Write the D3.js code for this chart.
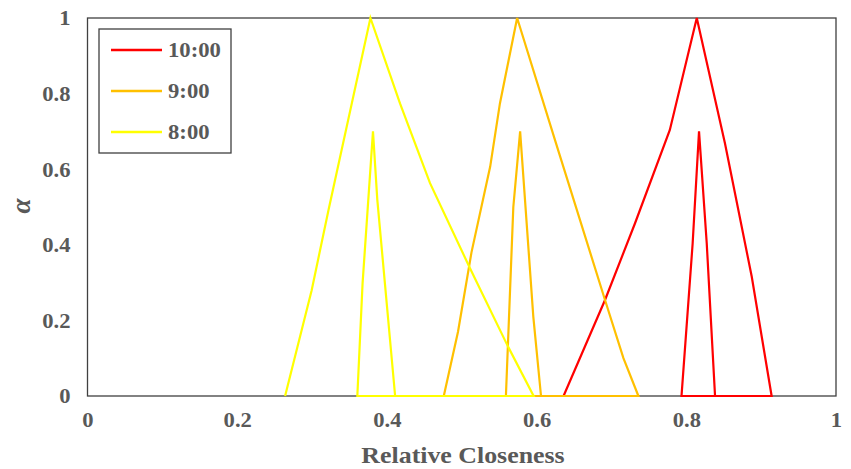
<!DOCTYPE html>
<html>
<head>
<meta charset="utf-8">
<script src="https://cdn.jsdelivr.net/npm/d3@7/dist/d3.min.js"></script>
<style>
  body { margin: 0; background: #fff; }
  svg text { font-family: "Times New Roman", "Liberation Serif", serif; font-weight: bold; fill: #595959; }
</style>
</head>
<body>
<svg id="chart" width="851" height="469"></svg>
<script>
// fuzzy relative closeness, [x, alpha] points
const seriesNames = ["10:00", "9:00", "8:00"];
const seriesColors = ["#ff0000", "#ffc000", "#ffff00"];

const redOuter = [[0.636, 0], [0.6914, 0.254], [0.7315, 0.457], [0.778, 0.704], [0.814, 1], [0.8517, 0.668], [0.8874, 0.316], [0.914, 0]];
const redInner = [[0.7936, 0], [0.8085, 0.404], [0.817, 0.7], [0.8273, 0.404], [0.8384, 0]];

const orangeOuter = [[0.476, 0], [0.495, 0.17], [0.513, 0.38], [0.538, 0.607], [0.551, 0.774], [0.574, 1], [0.6246, 0.677], [0.6914, 0.254], [0.716, 0.1], [0.736, 0]];
const orangeInner = [[0.559, 0], [0.5689, 0.5], [0.578, 0.7], [0.5956, 0.21], [0.6059, 0]];

const yellowOuter = [[0.264, 0], [0.2995, 0.28], [0.322, 0.492], [0.378, 1], [0.4175, 0.774], [0.4576, 0.563], [0.511, 0.338], [0.562, 0.13], [0.596, 0]];
const yellowInner = [[0.3605, 0], [0.3675, 0.298], [0.3814, 0.7], [0.3872, 0.519], [0.411, 0]];

const xTicks = [0, 0.2, 0.4, 0.6, 0.8, 1];
const xTickLabels = ["0", "0.2", "0.4", "0.6", "0.8", "1"];
const yTicks = [0, 0.2, 0.4, 0.6, 0.8, 1];
const yTickLabels = ["0", "0.2", "0.4", "0.6", "0.8", "1"];

const series = [
    redOuter.concat(redInner),
    orangeOuter.concat(orangeInner),
    yellowOuter.concat(yellowInner)
];

const svg = d3.select("#chart");
const margin = {top: 18, left: 87.5};
const width = 748.5, height = 378;
const stretch = 1.13; // the original text is a bit wide

const x = d3.scaleLinear().domain([0, 1]).range([0, width]);
const y = d3.scaleLinear().domain([0, 1]).range([height, 0]);

const focus = svg.append("g")
    .attr("transform", "translate(" + margin.left + "," + margin.top + ")");

// axes, labels only
const xAxis = focus.append("g")
    .attr("transform", "translate(0," + height + ")")
    .call(d3.axisBottom(x).tickValues(xTicks).tickSize(0)
        .tickFormat((d, i) => xTickLabels[i]));
xAxis.select(".domain").remove();
xAxis.selectAll("text")
    .attr("y", 31).attr("dy", 0)
    .attr("transform", "scale(" + stretch + ",1)")
    .style("font-size", "20px");

const yAxis = focus.append("g")
    .call(d3.axisLeft(y).tickValues(yTicks).tickSize(0)
        .tickFormat((d, i) => yTickLabels[i]));
yAxis.select(".domain").remove();
yAxis.selectAll("text")
    .attr("x", -15).attr("dy", "0.34em")
    .attr("transform", "scale(" + stretch + ",1)")
    .style("font-size", "20px");

// plot frame
focus.append("rect")
    .attr("width", width).attr("height", height)
    .attr("fill", "none")
    .attr("stroke", "#404040")
    .attr("stroke-width", 1.3);

const line = d3.line()
    .x(d => x(d[0]))
    .y(d => y(d[1]));

focus.selectAll(".series")
    .data(series)
    .enter().append("path")
    .attr("class", "series")
    .attr("fill", "none")
    .attr("stroke", (d, i) => seriesColors[i])
    .attr("stroke-width", 2.2)
    .attr("stroke-linejoin", "miter")
    .attr("d", line);

// legend
const legend = svg.append("g").attr("transform", "translate(99,29)");
legend.append("rect")
    .attr("width", 132).attr("height", 124)
    .attr("fill", "#fff")
    .attr("stroke", "#404040")
    .attr("stroke-width", 1.3);
seriesNames.forEach((name, i) => {
    const row = legend.append("g").attr("transform", "translate(0," + (21 + i * 41) + ")");
    row.append("line")
        .attr("x1", 12).attr("x2", 63)
        .attr("stroke", seriesColors[i])
        .attr("stroke-width", 2.5);
    row.append("g").attr("transform", "translate(69,0) scale(1.08,1)")
        .append("text")
        .attr("dy", "0.35em")
        .style("font-size", "21px")
        .text(name);
});

// axis titles
svg.append("g").attr("transform", "translate(463,463) scale(1.15,1)")
    .append("text")
    .attr("text-anchor", "middle")
    .style("font-size", "22.5px")
    .text("Relative Closeness");

svg.append("text")
    .attr("transform", "translate(30,206) rotate(-90)")
    .attr("text-anchor", "middle")
    .style("font-size", "27px")
    .style("font-style", "italic")
    .text("α");
</script>
</body>
</html>
